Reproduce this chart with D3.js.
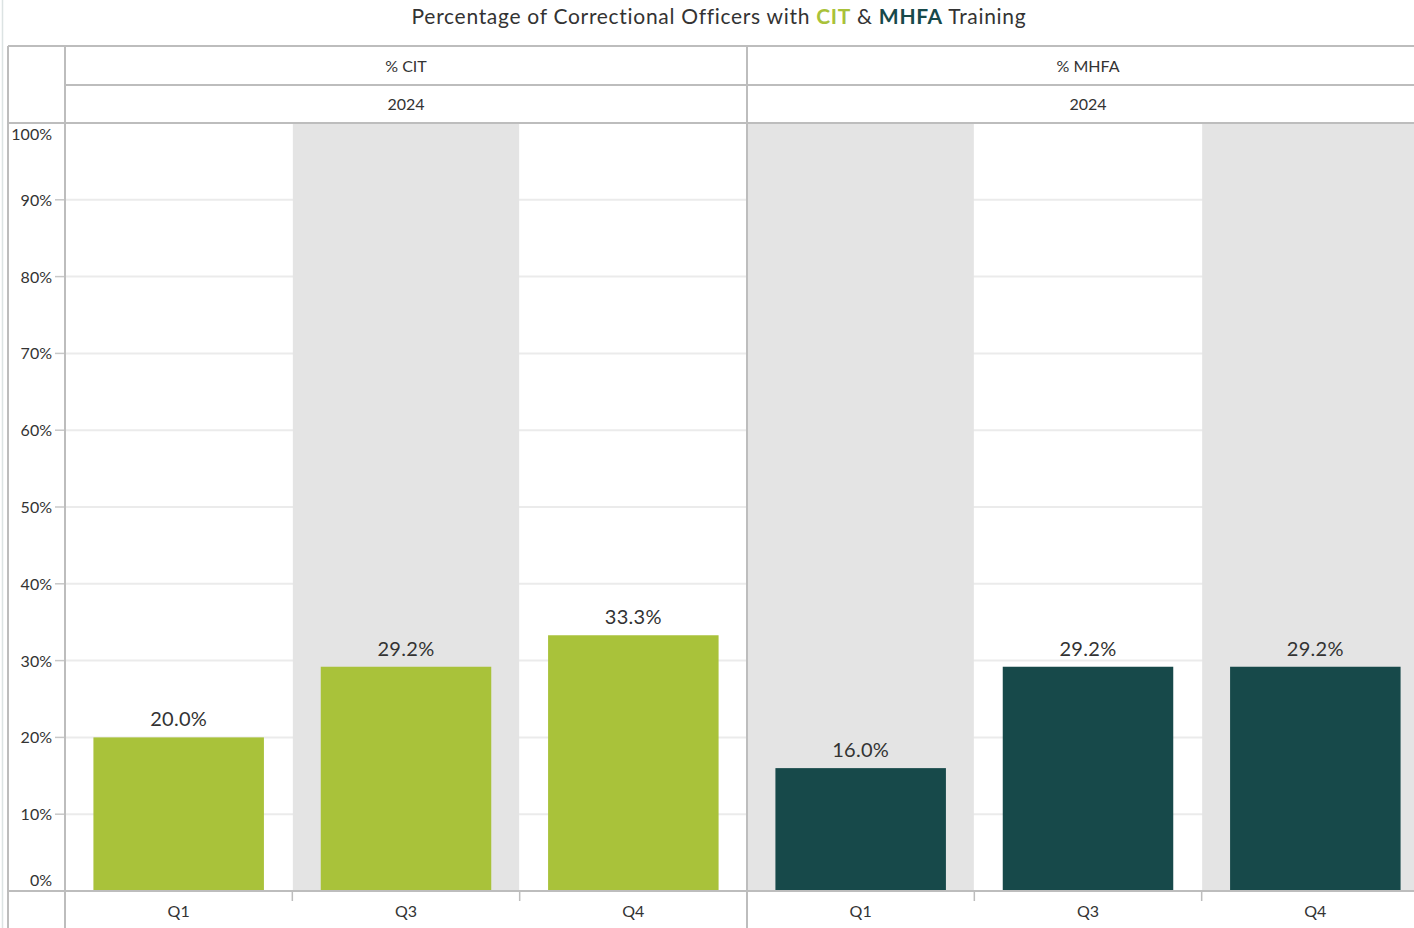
<!DOCTYPE html>
<html><head><meta charset="utf-8">
<script src="https://cdn.jsdelivr.net/npm/d3@7"></script>
<style>
html,body{margin:0;padding:0;background:#fff;}
svg{display:block;font-family:"Lato","Noto Sans",sans-serif;}
</style></head>
<body>
<svg id="chart" width="1414" height="928"></svg>
<script>
const quarters = ["Q1","Q3","Q4"];
const panels = ["% CIT","% MHFA"];
const yearLabel = "2024";
const citValues = [20.0, 29.2, 33.3];
const mhfaValues = [16.0, 29.2, 29.2];
const yTicks = [0,10,20,30,40,50,60,70,80,90,100];
const colors = ["#a9c23a","#17494a"];

(function(){
const svg = d3.select("#chart");
const W = 1414, H = 928;
const plotLeft = 65, panelW = 682, plotTop = 123, plotBottom = 891;
const borderC = "#bdbdbd", textC = "#333";

const y = d3.scaleLinear().domain([0,100]).range([plotBottom, plotTop]);

svg.append("line").attr("x1",2.5).attr("x2",2.5).attr("y1",0).attr("y2",H).attr("stroke","#dce3e3").attr("stroke-width",1.5);

const title = svg.append("text").attr("x",719).attr("y",24).attr("text-anchor","middle")
  .attr("font-size",21).attr("letter-spacing",0.7).attr("fill",textC);
title.append("tspan").text("Percentage of Correctional Officers with ");
title.append("tspan").text("CIT").attr("font-weight","bold").attr("fill",colors[0]);
title.append("tspan").text(" & ");
title.append("tspan").text("MHFA").attr("font-weight","bold").attr("fill",colors[1]);
title.append("tspan").text(" Training");

const seriesValues = [citValues, mhfaValues];

panels.forEach((p, i) => {
  const x0 = plotLeft + i*panelW;
  const x = d3.scaleBand().domain(quarters).range([x0, x0+panelW]).paddingInner(0.25).paddingOuter(0.125);
  const xb = d3.scaleBand().domain(quarters).range([x0, x0+panelW]);
  const g = svg.append("g");
  g.selectAll("line.grid").data(yTicks.filter(t=>t>0 && t<100)).join("line")
    .attr("x1",x0).attr("x2",x0+panelW).attr("y1",d=>y(d)).attr("y2",d=>y(d))
    .attr("stroke","#ebebeb").attr("stroke-width",2);
  quarters.forEach((q, j) => {
    const idx = i*quarters.length + j;
    if (idx % 2 === 1) {
      g.append("rect").attr("x", xb(q)+0.5).attr("y", plotTop).attr("width", xb.bandwidth()-1).attr("height", plotBottom-plotTop).attr("fill","#e4e4e4");
    }
  });
  g.selectAll("rect.bar").data(quarters).join("rect")
    .attr("x", q=>x(q)).attr("width", x.bandwidth())
    .attr("y", (q,j)=>y(seriesValues[i][j])).attr("height", (q,j)=>plotBottom - y(seriesValues[i][j]))
    .attr("fill", colors[i]);
  g.selectAll("text.val").data(quarters).join("text")
    .attr("x", q=>x(q)+x.bandwidth()/2).attr("y", (q,j)=>y(seriesValues[i][j]) - 11)
    .attr("text-anchor","middle").attr("font-size",20).attr("letter-spacing",0.3).attr("fill",textC)
    .text((q,j)=>seriesValues[i][j].toFixed(1)+"%");
  g.selectAll("line.xt").data(quarters.slice(1)).join("line")
    .attr("x1", q=>xb(q)).attr("x2", q=>xb(q)).attr("y1", plotBottom).attr("y2", plotBottom+10)
    .attr("stroke", borderC).attr("stroke-width",1.5);
  g.selectAll("text.xl").data(quarters).join("text")
    .attr("x", q=>xb(q)+xb.bandwidth()/2).attr("y", 917).attr("text-anchor","middle")
    .attr("font-size",16).attr("fill",textC).text(q=>q);
  svg.append("text").attr("x", x0+panelW/2).attr("y", 72).attr("text-anchor","middle")
    .attr("font-size",16).attr("fill",textC).text(p);
  svg.append("text").attr("x", x0+panelW/2).attr("y", 110).attr("text-anchor","middle")
    .attr("font-size",16).attr("fill",textC).text(yearLabel);
});

yTicks.forEach(t => {
  let ty = y(t) + 6;
  if (t === 100) ty = y(t) + 17;
  if (t === 0) ty = y(t) - 5;
  svg.append("text").attr("x", 52).attr("y", ty).attr("text-anchor","end")
    .attr("font-size",16).attr("fill",textC).text(t+"%");
  if (t>0 && t<100) svg.append("line").attr("x1",55).attr("x2",65).attr("y1",y(t)).attr("y2",y(t)).attr("stroke","#c8c8c8").attr("stroke-width",1.5);
});

const L = (x1,y1,x2,y2)=>svg.append("line").attr("x1",x1).attr("y1",y1).attr("x2",x2).attr("y2",y2).attr("stroke",borderC).attr("stroke-width",2);
L(8,46,W,46);
L(65,85,W,85);
L(8,123,W,123);
L(8,891,W,891);
L(8,46,8,H);
L(65,46,65,H);
L(747,46,747,H);
})();
</script>
</body></html>
